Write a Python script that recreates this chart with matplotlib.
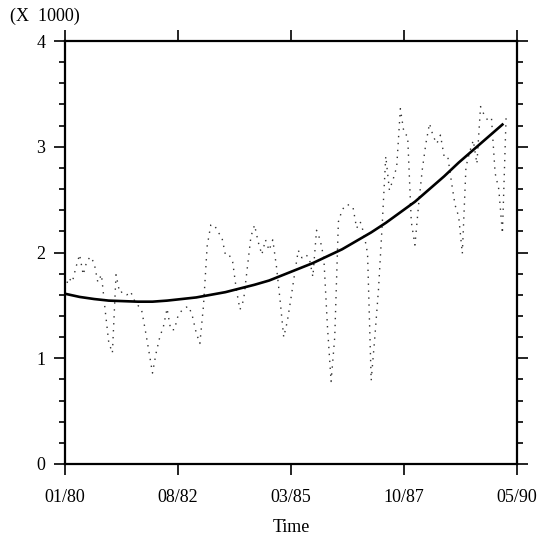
import matplotlib
matplotlib.use("Agg")
import matplotlib.pyplot as plt
from matplotlib.ticker import MultipleLocator, FixedLocator

# Monthly observations (in thousands), starting 01/80
obs = [1.65, 1.76, 1.72, 1.86, 1.98, 1.79, 1.92, 1.96, 1.90, 1.72, 1.79, 1.46,
       1.15, 1.05, 1.79, 1.62, 1.63, 1.60, 1.63, 1.55, 1.50, 1.46, 1.27, 1.07,
       0.86, 1.05, 1.20, 1.30, 1.47, 1.27, 1.27, 1.40, 1.45, 1.48, 1.49, 1.39,
       1.24, 1.14, 1.50, 2.06, 2.26, 2.26, 2.19, 2.15, 1.98, 1.98, 1.91, 1.65,
       1.46, 1.55, 1.85, 2.15, 2.26, 2.10, 1.98, 2.12, 2.02, 2.12, 1.87, 1.55,
       1.20, 1.35, 1.57, 1.80, 2.02, 1.95, 1.98, 1.95, 1.77, 2.21, 2.12, 1.95,
       1.30, 0.78, 1.20, 2.29, 2.40, 2.45, 2.45, 2.43, 2.23, 2.29, 2.18, 1.99,
       0.79, 1.20, 1.65, 2.25, 2.91, 2.59, 2.69, 2.81, 3.36, 3.13, 3.10, 2.29,
       2.07, 2.45, 2.78, 3.03, 3.22, 3.10, 3.03, 3.11, 2.91, 2.91, 2.67, 2.45,
       2.34, 1.99, 2.81, 2.95, 3.06, 2.84, 3.38, 3.30, 3.25, 3.27, 2.75, 2.60,
       2.18, 3.27]

# Trend curve, read every 4 months
trend_month = list(range(0, 121, 4))
trend = [1.61, 1.58, 1.56, 1.545, 1.54, 1.535, 1.535, 1.545, 1.56, 1.575,
         1.60, 1.625, 1.66, 1.695, 1.735, 1.79, 1.845, 1.90, 1.965, 2.03,
         2.11, 2.19, 2.28, 2.38, 2.48, 2.60, 2.72, 2.85, 2.97, 3.09, 3.21]

tick_months = [0, 31, 62, 93, 124]
tick_labels = ["01/80", "08/82", "03/85", "10/87", "05/90"]

plt.rcParams['font.family'] = ['Liberation Serif', 'DejaVu Serif']

fig = plt.figure(figsize=(5.51, 5.41), dpi=100)
ax = fig.add_axes([65/551, 1-464/541, (517-65)/551, (464-41)/541])

months = list(range(len(obs)))
ax.plot(months, obs, color='#333333', lw=1.0, linestyle=(0, (1, 4)))
ax.plot(trend_month, trend, color='black', lw=1.9)

ax.set_xlim(0, 124)
ax.set_ylim(0, 4)
ax.xaxis.set_major_locator(FixedLocator(tick_months))
ax.set_xticklabels(tick_labels)
ax.yaxis.set_major_locator(MultipleLocator(1))
ax.yaxis.set_minor_locator(MultipleLocator(0.2))
ax.tick_params(axis='both', which='major', direction='out', length=8, width=1.2,
               labelsize=13, top=True, right=True, color='black')
ax.tick_params(axis='y', which='minor', direction='out', length=4, width=1.2,
               right=True, left=True)
ax.tick_params(axis='x', which='major', pad=10)
ax.tick_params(axis='y', which='major', pad=6)
for s in ax.spines.values():
    s.set_linewidth(1.6)

ax.set_xlabel("Time", fontsize=13, labelpad=9)
fig.text(10/551, 1-16/541, "(X  1000)", fontsize=13, va='center', ha='left')

fig.savefig("out.png", dpi=100)
